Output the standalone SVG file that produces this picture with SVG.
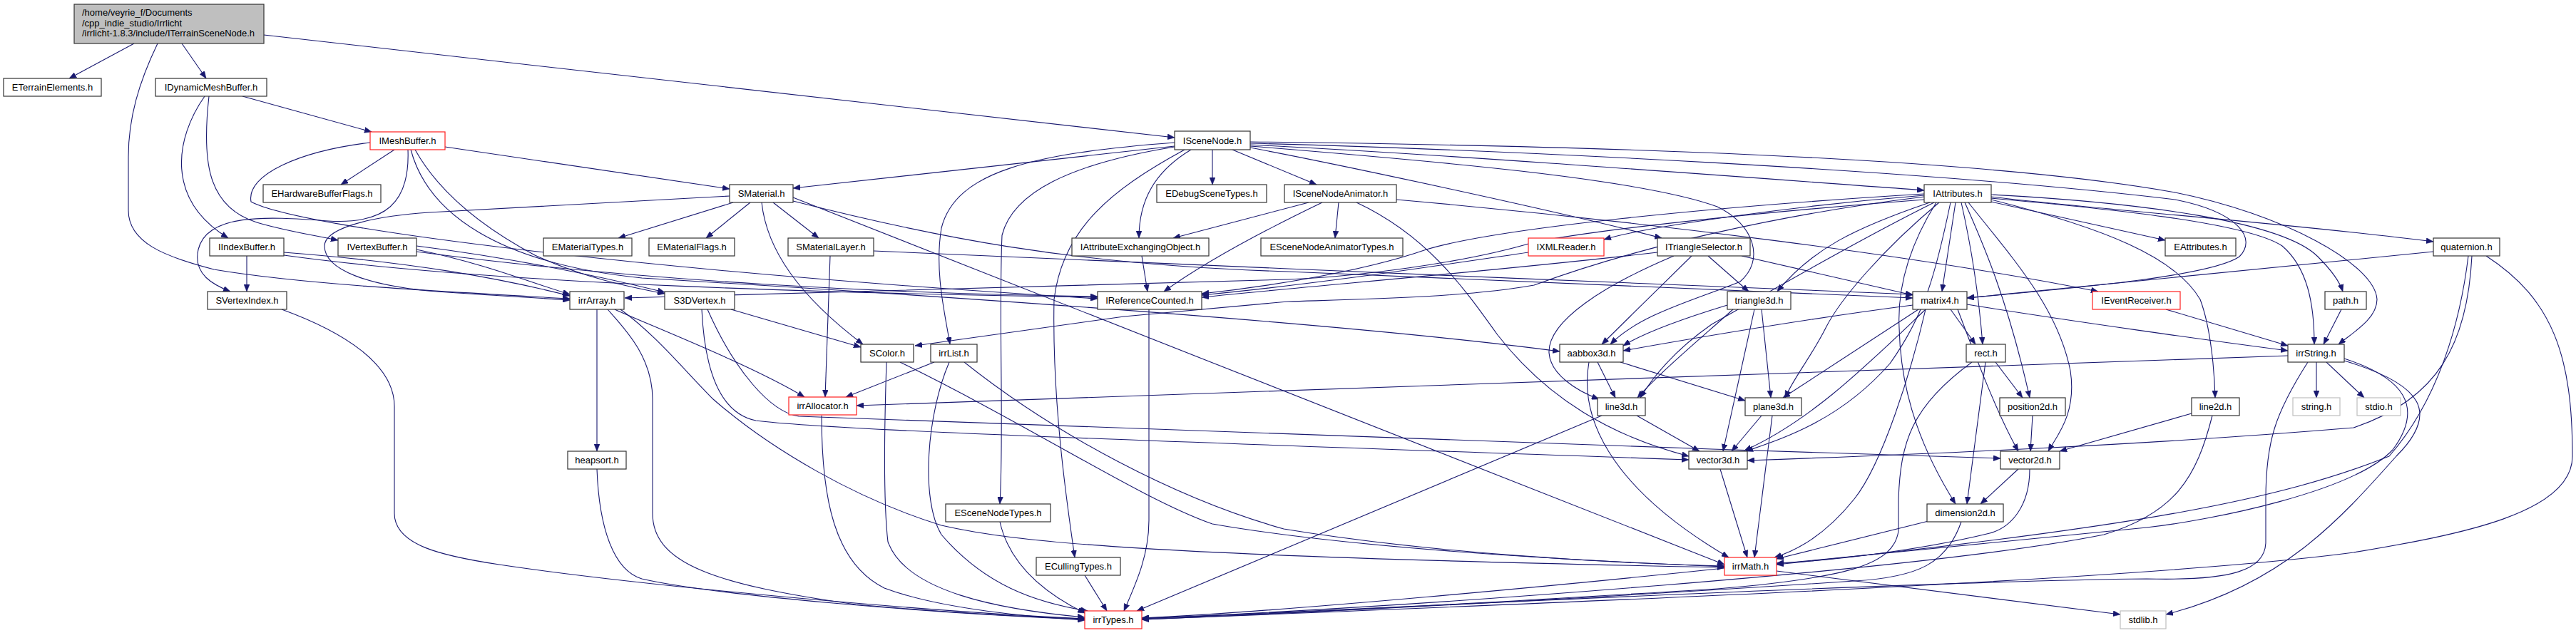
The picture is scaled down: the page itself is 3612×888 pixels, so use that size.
<svg xmlns="http://www.w3.org/2000/svg" width="3612" height="888" viewBox="0 0 3612 888">
<style>
.n rect{fill:#fff;stroke:#333;stroke-width:1.2}
.n.r rect{stroke:#ff2020}
.n.g rect{stroke:#bfbfbf}
.n.m rect{fill:#bfbfbf}
.n text{font-family:"Liberation Sans",Arial,sans-serif;font-size:13px;fill:#000;text-anchor:middle}
.n.m text{text-anchor:start}
#edges path{fill:none;stroke:#191970;stroke-width:1.1;marker-end:url(#a)}
</style>
<defs>
<marker id="a" viewBox="0 0 10 8" refX="10" refY="4" markerWidth="10" markerHeight="8" markerUnits="userSpaceOnUse" orient="auto"><path d="M0,0 L10,4 L0,8 z" fill="#191970" stroke="#191970" stroke-width="0.5"/></marker>
</defs>
<rect width="3612" height="888" fill="#fff"/>
<g id="edges">
<path d="M188,61 L97,110"/>
<path d="M255,61 L289,110"/>
<path d="M221,61 C195,115 180,165 180,220 L180,295 C180,340 230,360 300,378 C430,400 640,410 799,419"/>
<path d="M370,49 L1647,193"/>
<path d="M340,135 L521,185"/>
<path d="M287,135 C245,195 232,280 320,334"/>
<path d="M293,135 C283,225 290,290 360,312 C400,324 440,330 474,337"/>
<path d="M553,210 L478,259"/>
<path d="M624,206 L1023,265"/>
<path d="M572,210 C575,285 540,315 460,310 C370,303 290,300 278,350 C270,385 300,400 323,409"/>
<path d="M519,200 C420,212 345,245 352,283 C420,320 900,380 1539,419"/>
<path d="M582,210 C610,260 660,310 750,358 C820,390 880,402 932,412"/>
<path d="M576,210 C600,300 700,370 900,390 C1400,420 1900,455 2187,493"/>
<path d="M346,359 L346,409"/>
<path d="M398,354 C580,368 700,390 799,415"/>
<path d="M398,358 C700,400 1200,412 1539,417"/>
<path d="M584,350 C680,370 740,395 799,413"/>
<path d="M584,345 C720,362 830,385 932,410"/>
<path d="M584,353 C900,395 1250,412 1539,416"/>
<path d="M395,434 C480,465 553,510 553,570 L553,720 C553,765 620,780 700,792 C900,822 1300,858 1521,868"/>
<path d="M1028,284 L867,334"/>
<path d="M1052,284 L990,334"/>
<path d="M1084,284 L1148,334"/>
<path d="M1023,275 L602,298 C500,305 455,325 455,345 C455,380 520,400 600,408 C680,414 740,417 799,421"/>
<path d="M1068,284 C1075,350 1120,415 1210,483"/>
<path d="M1112,282 C1300,330 1500,372 1806,381 L2682,418"/>
<path d="M1112,277 L2418,792"/>
<path d="M1164,359 L1157,557"/>
<path d="M1225,352 L1806,377 C2100,390 2500,405 2682,413"/>
<path d="M1025,434 L1207,487"/>
<path d="M984,434 C988,520 1010,580 1060,590 C1150,602 1500,615 2368,645"/>
<path d="M992,434 C1030,520 1080,578 1120,584 C1400,596 1900,612 2400,630 C2600,637 2700,640 2805,643"/>
<path d="M837,434 L837,633"/>
<path d="M862,434 C900,452 1050,510 1128,557"/>
<path d="M852,434 C875,460 915,500 915,560 L915,720 C915,790 1000,820 1200,848 C1350,861 1450,866 1521,868"/>
<path d="M870,434 C920,470 960,520 1000,560 C1080,630 1200,700 1320,737 C1420,760 1600,780 2418,796"/>
<path d="M837,658 C840,740 860,800 900,812 C1000,835 1300,860 1521,869"/>
<path d="M1152,583 C1152,700 1170,790 1240,825 C1320,855 1450,866 1521,870"/>
<path d="M1243,508 C1240,600 1238,700 1245,760 C1270,830 1400,855 1521,866"/>
<path d="M1262,508 C1450,600 1600,700 1700,735 C1900,770 2200,786 2418,795"/>
<path d="M1310,508 L1186,557"/>
<path d="M1331,508 C1300,580 1290,700 1320,750 C1380,820 1450,845 1525,857"/>
<path d="M1352,508 C1480,610 1650,700 1800,742 C2000,775 2250,790 2418,794"/>
<path d="M1700,210 L1700,259"/>
<path d="M1670,210 C1620,240 1597,280 1597,334"/>
<path d="M1647,205 L1112,264"/>
<path d="M1647,200 C1450,215 1340,240 1320,320 C1310,380 1325,440 1332,483"/>
<path d="M1647,206 C1500,230 1420,270 1405,330 C1400,450 1408,600 1402,707"/>
<path d="M1661,210 C1560,265 1490,320 1478,420 C1475,560 1495,700 1507,782"/>
<path d="M1728,210 L1846,259"/>
<path d="M1753,207 C1900,235 2200,300 2330,334"/>
<path d="M1753,203 C2000,215 2400,245 2698,267"/>
<path d="M1753,199 C2300,205 2800,225 3050,270 C3200,300 3330,370 3333,420 C3333,447 3300,466 3279,483"/>
<path d="M1753,201 C2100,210 2700,238 3050,280 C3140,298 3165,335 3140,360 C3100,388 2900,405 2758,418"/>
<path d="M1753,205 C2000,225 2300,250 2408,290 C2460,315 2475,365 2440,395 C2380,420 2300,440 2258,483"/>
<path d="M1402,732 C1415,790 1460,830 1521,860"/>
<path d="M1521,807 L1552,857"/>
<path d="M1877,284 L1872,334"/>
<path d="M1835,284 L1645,334"/>
<path d="M1854,284 C1800,310 1700,360 1632,409"/>
<path d="M1902,284 C2000,330 2050,400 2100,470 C2170,560 2260,612 2368,640"/>
<path d="M1958,280 C2300,310 2700,360 2942,409"/>
<path d="M1601,359 L1609,409"/>
<path d="M1611,434 L1611,730 C1611,780 1592,820 1576,857"/>
<path d="M2698,272 C2400,290 2100,320 2000,350 C1900,385 1750,405 1685,412"/>
<path d="M2698,276 C2500,300 2300,345 2151,400 C2050,418 1900,420 1806,423 L1576,444 L1283,485"/>
<path d="M2698,280 C2500,295 2250,320 2150,340 C2050,370 1900,388 1806,392 L876,418"/>
<path d="M2698,274 C2500,290 2300,320 2249,336"/>
<path d="M2706,284 C2600,320 2540,350 2492,409"/>
<path d="M2742,284 L2723,409"/>
<path d="M2719,284 C2640,350 2580,420 2560,460 C2540,500 2515,530 2503,558"/>
<path d="M2735,284 C2715,380 2700,440 2650,510 C2580,590 2500,615 2448,633"/>
<path d="M2712,284 C2600,340 2480,410 2400,455 C2350,490 2320,525 2300,558"/>
<path d="M2750,284 C2765,350 2775,420 2780,483"/>
<path d="M2715,284 C2680,340 2660,400 2663,460 C2665,560 2700,640 2742,707"/>
<path d="M2755,284 C2780,340 2815,420 2846,558"/>
<path d="M2760,284 C2820,360 2885,430 2903,520 C2912,580 2885,610 2872,633"/>
<path d="M2792,280 C2950,320 3050,360 3085,420 C3100,460 3105,520 3106,558"/>
<path d="M2792,283 L3036,337"/>
<path d="M2792,276 C2950,295 3200,312 3412,339"/>
<path d="M2792,273 C3000,284 3200,310 3250,360 C3268,378 3280,393 3285,409"/>
<path d="M2792,278 C2950,292 3150,312 3200,345 C3235,375 3245,425 3245,483"/>
<path d="M2324,354 C2100,380 1850,400 1685,417"/>
<path d="M2395,359 L2452,409"/>
<path d="M2442,359 L2682,414"/>
<path d="M2372,359 C2330,400 2300,430 2246,483"/>
<path d="M2347,359 C2250,400 2170,450 2172,495 C2174,525 2210,548 2242,560"/>
<path d="M2143,354 C2000,375 1850,398 1685,414"/>
<path d="M2460,434 L2416,633"/>
<path d="M2470,434 L2483,558"/>
<path d="M2430,434 C2390,470 2330,520 2296,558"/>
<path d="M2422,428 C2350,450 2300,470 2276,485"/>
<path d="M2228,508 C2215,580 2250,680 2424,782"/>
<path d="M2272,508 L2447,562"/>
<path d="M2240,508 L2265,558"/>
<path d="M2295,583 L2383,633"/>
<path d="M2246,583 L1594,857"/>
<path d="M2412,658 L2450,782"/>
<path d="M2700,434 C2680,520 2640,650 2600,700 C2560,750 2520,772 2488,782"/>
<path d="M2700,434 C2620,510 2540,590 2446,632"/>
<path d="M2745,434 C2770,500 2800,580 2830,633"/>
<path d="M2690,434 L2500,558"/>
<path d="M2682,428 C2550,445 2400,470 2276,492"/>
<path d="M2735,434 L2770,483"/>
<path d="M2758,427 C2900,450 3100,478 3208,492"/>
<path d="M2470,583 L2428,633"/>
<path d="M2485,583 L2460,782"/>
<path d="M2784,508 L2758,707"/>
<path d="M2798,508 L2836,558"/>
<path d="M2765,508 C2680,570 2665,620 2662,700 L2662,745 C2655,790 2600,810 2408,826 C2100,845 1800,862 1601,867"/>
<path d="M2850,583 L2847,633"/>
<path d="M2830,658 L2777,707"/>
<path d="M2846,658 C2846,710 2820,740 2790,748 C2700,770 2580,786 2491,790"/>
<path d="M2708,730 L2491,784"/>
<path d="M2750,732 C2730,790 2690,810 2600,815 C2300,835 1900,857 1601,869"/>
<path d="M2418,797 C2200,820 1800,858 1601,867"/>
<path d="M2491,801 L2973,862"/>
<path d="M3037,434 L3208,485"/>
<path d="M3248,508 L3248,558"/>
<path d="M3262,508 L3315,558"/>
<path d="M3208,499 L1201,569"/>
<path d="M3236,508 C3190,580 3177,620 3177,700 L3177,760 C3177,800 3130,815 3010,812 C2700,815 2000,850 1601,868"/>
<path d="M3287,503 C3370,530 3400,570 3355,631 C3300,690 3100,730 3010,740 C2800,760 2600,780 2491,791"/>
<path d="M3287,506 C3400,540 3420,580 3360,640 C3280,730 3200,820 3037,862"/>
<path d="M3073,580 L2888,633"/>
<path d="M3102,583 C3080,670 3050,720 2950,750 C2700,800 2000,850 1601,868"/>
<path d="M3412,353 L2758,418"/>
<path d="M3486,359 C3580,420 3607,500 3607,640 C3607,720 3450,750 3300,775 C3000,815 2200,845 1601,869"/>
<path d="M3461,359 C3450,450 3420,560 3350,640 C3200,700 3000,740 2491,792"/>
<path d="M3466,359 C3460,480 3420,560 3300,600 C3000,625 2700,637 2450,646"/>
<path d="M3283,434 L3258,483"/>
</g>
<g id="node-main" class="n m"><rect x="104" y="6" width="266" height="55"/><text x="115" y="21.5">/home/veyrie_f/Documents</text><text x="115" y="36.5">/cpp_indie_studio/Irrlicht</text><text x="115" y="51">/irrlicht-1.8.3/include/ITerrainSceneNode.h</text></g>
<g id="node-ETerrainElements" class="n"><rect x="5" y="110" width="137" height="25"/><text x="73.5" y="127">ETerrainElements.h</text></g>
<g id="node-IDynamicMeshBuffer" class="n"><rect x="218" y="110" width="156" height="25"/><text x="296" y="127">IDynamicMeshBuffer.h</text></g>
<g id="node-IMeshBuffer" class="n r"><rect x="519" y="185" width="105" height="25"/><text x="571.5" y="202">IMeshBuffer.h</text></g>
<g id="node-EHardwareBufferFlags" class="n"><rect x="369" y="259" width="165" height="25"/><text x="451.5" y="276">EHardwareBufferFlags.h</text></g>
<g id="node-IIndexBuffer" class="n"><rect x="294" y="334" width="104" height="25"/><text x="346" y="351">IIndexBuffer.h</text></g>
<g id="node-IVertexBuffer" class="n"><rect x="474" y="334" width="110" height="25"/><text x="529" y="351">IVertexBuffer.h</text></g>
<g id="node-SVertexIndex" class="n"><rect x="291" y="409" width="111" height="25"/><text x="346.5" y="426">SVertexIndex.h</text></g>
<g id="node-SMaterial" class="n"><rect x="1023" y="259" width="89" height="25"/><text x="1067.5" y="276">SMaterial.h</text></g>
<g id="node-EMaterialTypes" class="n"><rect x="762" y="334" width="124" height="25"/><text x="824" y="351">EMaterialTypes.h</text></g>
<g id="node-EMaterialFlags" class="n"><rect x="910" y="334" width="120" height="25"/><text x="970" y="351">EMaterialFlags.h</text></g>
<g id="node-SMaterialLayer" class="n"><rect x="1105" y="334" width="120" height="25"/><text x="1165" y="351">SMaterialLayer.h</text></g>
<g id="node-irrArray" class="n"><rect x="799" y="409" width="76" height="25"/><text x="837" y="426">irrArray.h</text></g>
<g id="node-S3DVertex" class="n"><rect x="932" y="409" width="98" height="25"/><text x="981" y="426">S3DVertex.h</text></g>
<g id="node-heapsort" class="n"><rect x="796" y="633" width="82" height="25"/><text x="837" y="650">heapsort.h</text></g>
<g id="node-irrAllocator" class="n r"><rect x="1106" y="557" width="95" height="25"/><text x="1153.5" y="574">irrAllocator.h</text></g>
<g id="node-ISceneNode" class="n"><rect x="1647" y="184" width="106" height="26"/><text x="1700" y="202">ISceneNode.h</text></g>
<g id="node-EDebugSceneTypes" class="n"><rect x="1622" y="259" width="154" height="25"/><text x="1699" y="276">EDebugSceneTypes.h</text></g>
<g id="node-ISceneNodeAnimator" class="n"><rect x="1801" y="259" width="157" height="25"/><text x="1879.5" y="276">ISceneNodeAnimator.h</text></g>
<g id="node-IAttributeExchangingObject" class="n"><rect x="1503" y="334" width="192" height="25"/><text x="1599" y="351">IAttributeExchangingObject.h</text></g>
<g id="node-ESceneNodeAnimatorTypes" class="n"><rect x="1768" y="334" width="199" height="25"/><text x="1867.5" y="351">ESceneNodeAnimatorTypes.h</text></g>
<g id="node-IReferenceCounted" class="n"><rect x="1539" y="409" width="146" height="25"/><text x="1612" y="426">IReferenceCounted.h</text></g>
<g id="node-SColor" class="n"><rect x="1207" y="483" width="74" height="25"/><text x="1244" y="500">SColor.h</text></g>
<g id="node-irrList" class="n"><rect x="1305" y="483" width="65" height="25"/><text x="1337.5" y="500">irrList.h</text></g>
<g id="node-ESceneNodeTypes" class="n"><rect x="1326" y="707" width="147" height="25"/><text x="1399.5" y="724">ESceneNodeTypes.h</text></g>
<g id="node-ECullingTypes" class="n"><rect x="1453" y="782" width="118" height="25"/><text x="1512" y="799">ECullingTypes.h</text></g>
<g id="node-irrTypes" class="n r"><rect x="1521" y="857" width="80" height="25"/><text x="1561" y="874">irrTypes.h</text></g>
<g id="node-IXMLReader" class="n r"><rect x="2143" y="334" width="106" height="25"/><text x="2196" y="351">IXMLReader.h</text></g>
<g id="node-ITriangleSelector" class="n"><rect x="2324" y="334" width="130" height="25"/><text x="2389" y="351">ITriangleSelector.h</text></g>
<g id="node-aabbox3d" class="n"><rect x="2187" y="483" width="89" height="25"/><text x="2231.5" y="500">aabbox3d.h</text></g>
<g id="node-line3d" class="n"><rect x="2240" y="558" width="67" height="25"/><text x="2273.5" y="575">line3d.h</text></g>
<g id="node-vector3d" class="n"><rect x="2368" y="633" width="82" height="25"/><text x="2409" y="650">vector3d.h</text></g>
<g id="node-IAttributes" class="n"><rect x="2698" y="259" width="94" height="25"/><text x="2745" y="276">IAttributes.h</text></g>
<g id="node-triangle3d" class="n"><rect x="2422" y="409" width="89" height="25"/><text x="2466.5" y="426">triangle3d.h</text></g>
<g id="node-matrix4" class="n"><rect x="2682" y="409" width="76" height="25"/><text x="2720" y="426">matrix4.h</text></g>
<g id="node-IEventReceiver" class="n r"><rect x="2934" y="409" width="123" height="25"/><text x="2995.5" y="426">IEventReceiver.h</text></g>
<g id="node-rect" class="n"><rect x="2757" y="483" width="55" height="25"/><text x="2784.5" y="500">rect.h</text></g>
<g id="node-plane3d" class="n"><rect x="2447" y="558" width="79" height="25"/><text x="2486.5" y="575">plane3d.h</text></g>
<g id="node-position2d" class="n"><rect x="2804" y="558" width="92" height="25"/><text x="2850" y="575">position2d.h</text></g>
<g id="node-vector2d" class="n"><rect x="2805" y="633" width="83" height="25"/><text x="2846.5" y="650">vector2d.h</text></g>
<g id="node-dimension2d" class="n"><rect x="2702" y="707" width="107" height="25"/><text x="2755.5" y="724">dimension2d.h</text></g>
<g id="node-irrMath" class="n r"><rect x="2418" y="782" width="73" height="25"/><text x="2454.5" y="799">irrMath.h</text></g>
<g id="node-stdlib" class="n g"><rect x="2973" y="857" width="64" height="25"/><text x="3005" y="874">stdlib.h</text></g>
<g id="node-EAttributes" class="n"><rect x="3036" y="334" width="99" height="25"/><text x="3085.5" y="351">EAttributes.h</text></g>
<g id="node-quaternion" class="n"><rect x="3412" y="334" width="93" height="25"/><text x="3458.5" y="351">quaternion.h</text></g>
<g id="node-path" class="n"><rect x="3260" y="409" width="58" height="25"/><text x="3289" y="426">path.h</text></g>
<g id="node-irrString" class="n"><rect x="3208" y="483" width="79" height="25"/><text x="3247.5" y="500">irrString.h</text></g>
<g id="node-line2d" class="n"><rect x="3073" y="558" width="67" height="25"/><text x="3106.5" y="575">line2d.h</text></g>
<g id="node-string" class="n g"><rect x="3215" y="558" width="66" height="25"/><text x="3248" y="575">string.h</text></g>
<g id="node-stdio" class="n g"><rect x="3305" y="558" width="61" height="25"/><text x="3335.5" y="575">stdio.h</text></g>
</svg>
